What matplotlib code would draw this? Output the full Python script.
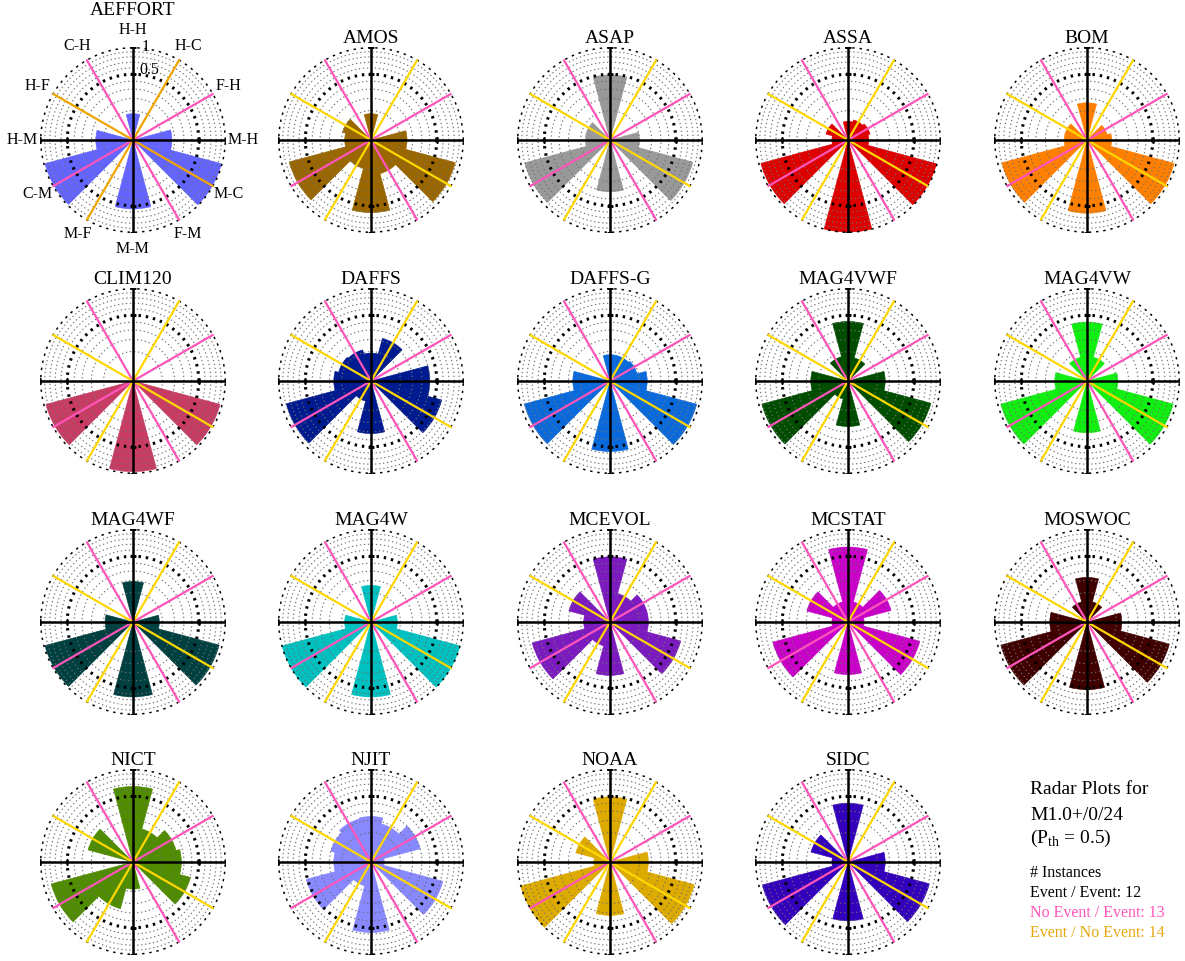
import numpy as np
import matplotlib
matplotlib.use("Agg")
import matplotlib.pyplot as plt

plt.rcParams['font.family'] = ['Liberation Serif', 'DejaVu Serif']

# ---------------- data ----------------
DIRS = ['H-H', 'H-C', 'F-H', 'M-H', 'M-C', 'F-M', 'M-M', 'M-F', 'C-M', 'H-M', 'H-F', 'C-H']

AEFFORT = [0.08, 0, 0, 0.175, 0.97, 0, 0.55, 0, 0.96, 0.16, 0, 0]
AMOS    = [0.08, 0, 0, 0.15, 0.88, 0.14, 0.61, 0.10, 0.83, 0.08, 0.10, 0]
ASAP    = [0.49, 0, 0, 0.10, 0.85, 0, 0.31, 0, 0.90, 0.07, 0.07, 0]
ASSA    = [0.04, 0.05, 0.06, 0.05, 0.97, 0, 0.98, 0, 0.94, 0.03, 0.06, 0]
BOM     = [0.16, 0, 0.05, 0.07, 0.94, 0, 0.62, 0, 0.90, 0.06, 0.06, 0]
CLIM120 = [0, 0, 0, 0, 0.94, 0, 0.95, 0, 0.94, 0, 0, 0]
DAFFS   = [0.09, 0.225, 0, 0.40, 0.62, 0, 0.32, 0.05, 0.89, 0.16, 0.13, 0.12]
DAFFS_G = [0.08, 0.08, 0.09, 0.16, 0.93, 0, 0.575, 0, 0.91, 0.16, 0, 0]
MAG4VWF = [0.41, 0.066, 0, 0.16, 0.85, 0, 0.24, 0.04, 0.92, 0.16, 0, 0.073]
MAG4VW  = [0.40, 0.07, 0, 0.11, 0.92, 0, 0.31, 0, 0.92, 0.12, 0, 0.07]
MAG4WF  = [0.19, 0, 0, 0.08, 0.92, 0, 0.65, 0, 0.96, 0.09, 0, 0]
MAG4W   = [0.155, 0, 0, 0.08, 0.98, 0, 0.65, 0, 0.98, 0.08, 0, 0]
MCEVOL  = [0.49, 0.10, 0.17, 0.17, 0.62, 0, 0.33, 0.07, 0.75, 0.08, 0.21, 0]
MCSTAT  = [0.65, 0.05, 0.23, 0.03, 0.64, 0, 0.32, 0, 0.70, 0.03, 0.21, 0.05]
MOSWOC  = [0.23, 0.05, 0, 0.14, 0.84, 0, 0.53, 0, 0.92, 0.16, 0, 0.05]
NICT    = [0.66, 0.135, 0.23, 0.27, 0.41, 0, 0.085, 0.27, 0.83, 0, 0.25, 0]
NJIT    = [0.24, 0.18, 0.30, 0.02, 0.64, 0, 0.575, 0.07, 0.52, 0.16, 0.20, 0.23]
NOAA    = [0.49, 0, 0, 0.17, 0.88, 0, 0.33, 0, 0.99, 0.03, 0.145, 0]
SIDC    = [0.40, 0, 0, 0.16, 0.82, 0, 0.40, 0, 0.91, 0.03, 0.17, 0]

MODEL_NAMES = ['AEFFORT', 'AMOS', 'ASAP', 'ASSA', 'BOM',
               'CLIM120', 'DAFFS', 'DAFFS-G', 'MAG4VWF', 'MAG4VW',
               'MAG4WF', 'MAG4W', 'MCEVOL', 'MCSTAT', 'MOSWOC',
               'NICT', 'NJIT', 'NOAA', 'SIDC']
MODEL_VALUES = [AEFFORT, AMOS, ASAP, ASSA, BOM,
                CLIM120, DAFFS, DAFFS_G, MAG4VWF, MAG4VW,
                MAG4WF, MAG4W, MCEVOL, MCSTAT, MOSWOC,
                NICT, NJIT, NOAA, SIDC]
MODEL_COLORS = ['#6464ff', '#9a6600', '#999999', '#dd0000', '#ff8000',
                '#c83c64', '#001a8f', '#0a6adc', '#004d00', '#11ee11',
                '#004040', '#00c0c0', '#7a1abf', '#c800c8', '#3f0000',
                '#4f8c00', '#8888ff', '#ddaa00', '#3300bb']

GRID_LEVELS = [0.1, 0.2, 0.3, 0.4, 0.5, 0.6, 0.7, 0.8, 0.9, 1.0]
N_EVENT_EVENT = 12
N_NOEVENT_EVENT = 13
N_EVENT_NOEVENT = 14

PINK = '#ff55bb'
GOLD = '#ffd700'
ORANGE = '#f0a500'

# ---------------- figure ----------------
W, H = 1185, 961
fig = plt.figure(figsize=(W / 100, H / 100), dpi=100)

R = 93
col_x = [133, 371, 610, 848, 1087]
row_y = [140, 381, 622, 862]

theta_centers = np.deg2rad(90 - 30 * np.arange(len(DIRS)))
full = np.linspace(0, 2 * np.pi, 721)


def fwd(r):
    return np.sqrt(np.clip(r, 0, None))


def inv(r):
    return np.square(r)


for k, (name, vals, col) in enumerate(zip(MODEL_NAMES, MODEL_VALUES, MODEL_COLORS)):
    cx = col_x[k % 5]
    cy = row_y[k // 5]
    ax = fig.add_axes([(cx - R) / W, 1 - (cy + R) / H, 2 * R / W, 2 * R / H],
                      projection='polar')
    ax.set_rscale('function', functions=(fwd, inv))
    ax.set_rlim(0, 1)
    ax.set_xticks([])
    ax.set_yticks([])
    ax.grid(False)
    ax.spines['polar'].set_visible(False)

    ax.bar(theta_centers, vals, width=np.deg2rad(30), bottom=0,
           color=col, edgecolor=col, linewidth=0.4, zorder=1)

    for lv in GRID_LEVELS:
        if lv in (0.5, 1.0):
            ax.plot(full, np.full_like(full, lv), color='black', lw=2.2,
                    ls=(0, (0.8, 1.6)), zorder=2)
        else:
            ax.plot(full, np.full_like(full, lv), color='#707070', lw=0.8,
                    ls=(0, (1.2, 2.4)), zorder=2)

    yel = ORANGE if k == 0 else GOLD
    for a in (30, 120, 210, 300):
        ax.plot([np.deg2rad(a)] * 2, [0, 1], color=PINK, lw=1.6, zorder=3)
    for a in (60, 150, 240, 330):
        ax.plot([np.deg2rad(a)] * 2, [0, 1], color=yel, lw=1.6, zorder=3)
    for a in (0, 90, 180, 270):
        ax.plot([np.deg2rad(a)] * 2, [0, 1], color='black', lw=1.8, zorder=4)
        mk = '_' if a in (90, 270) else '|'
        ax.plot([np.deg2rad(a)] * 2, [0.5, 1.0], ls='none', marker=mk,
                ms=4, mew=1.8, color='black', zorder=4)

    if k == 0:
        for lab, th in zip(DIRS, theta_centers):
            ry = 0.59 if lab == 'H-H' else 0.585
            ax.text(0.5 + 0.595 * np.cos(th), 0.5 + ry * np.sin(th), lab,
                    transform=ax.transAxes, ha='center', va='center',
                    fontsize=11.5)
        ax.text(0.568, 1.0, '1', transform=ax.transAxes, ha='center',
                va='center', fontsize=11.5)
        ax.text(0.59, 0.875, '0.5', transform=ax.transAxes, ha='center',
                va='center', fontsize=11.5)
        ax.set_title(name, fontsize=14, pad=23)
    else:
        ax.set_title(name, fontsize=14, pad=2)

# ---------------- annotation ----------------
tx = 1030 / W
fig.text(tx, 1 - 790 / H, 'Radar Plots for', fontsize=14, va='center', ha='left')
fig.text(tx, 1 - 815 / H, 'M1.0+/0/24', fontsize=14, va='center', ha='left')
fig.text(tx, 1 - 838 / H, r'(P$_{\mathregular{th}}$ = 0.5)', fontsize=14,
         va='center', ha='left')
fig.text(tx, 1 - 873 / H, '# Instances', fontsize=11.5, va='center', ha='left')
fig.text(tx, 1 - 893 / H, f'Event / Event: {N_EVENT_EVENT}', fontsize=11.5,
         va='center', ha='left', color='black')
fig.text(tx, 1 - 913 / H, f'No Event / Event: {N_NOEVENT_EVENT}', fontsize=11.5,
         va='center', ha='left', color=PINK)
fig.text(tx, 1 - 933 / H, f'Event / No Event: {N_EVENT_NOEVENT}', fontsize=11.5,
         va='center', ha='left', color='#e8a810')

fig.savefig('out.png', dpi=100)
